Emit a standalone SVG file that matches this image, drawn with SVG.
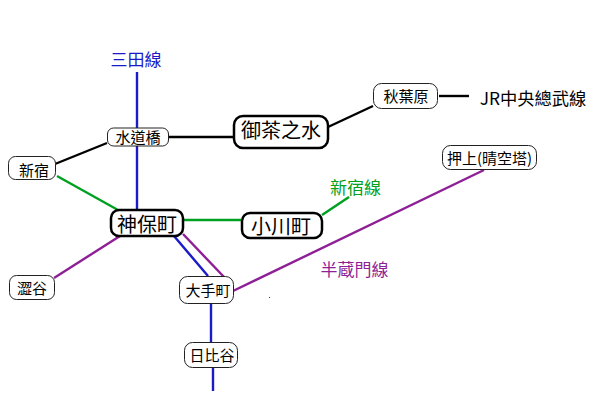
<svg xmlns="http://www.w3.org/2000/svg" width="600" height="415" viewBox="0 0 600 415">
<style>
text{font-family:"Noto Sans CJK TC","Noto Sans CJK SC","Liberation Sans",sans-serif;text-anchor:middle;dominant-baseline:central;fill:#000}
.n rect{fill:#fff;stroke:#222;stroke-width:1;}
.b rect{fill:#fff;stroke:#000;stroke-width:2.5}
.s{font-size:15px}.l{font-size:20px}
#connectors line{stroke-width:2.4;fill:none}
.k{stroke:#000}.g{stroke:#00a020}.u{stroke:#1a1ac8}.p{stroke:#8e1f96}
</style>
<rect width="600" height="415" fill="#fff"/>
<g id="connectors">
<line class="u" x1="137" y1="72" x2="137" y2="128"/>
<line class="u" x1="137" y1="146" x2="137" y2="210"/>
<line class="k" x1="168" y1="137" x2="233" y2="137"/>
<line class="k" x1="55" y1="164" x2="107" y2="143"/>
<line class="k" x1="328" y1="127" x2="373" y2="106"/>
<line class="k" x1="439" y1="96" x2="469" y2="96"/>
<line class="g" x1="57" y1="176" x2="118" y2="210"/>
<line class="g" x1="183" y1="220" x2="241" y2="220"/>
<line class="g" x1="322" y1="215" x2="349" y2="197"/>
<line class="p" x1="120" y1="236" x2="54" y2="278"/>
<line class="u" x1="174" y1="236" x2="208" y2="276"/>
<line class="p" x1="183" y1="234" x2="224" y2="277"/>
<line class="p" x1="233" y1="291" x2="484" y2="170"/>
<line class="u" x1="211" y1="303" x2="211" y2="342"/>
<line class="u" x1="213" y1="367" x2="213" y2="391"/>
</g>
<g id="mita-label"><text x="136" y="58" font-size="17" style="fill:#1a1ac8">三田線</text></g>
<g id="jr-label"><text x="533" y="97" font-size="17.300">JR中央總武線</text></g>
<g id="shinjuku-line-label"><text x="355.500" y="186" font-size="17" style="fill:#00a020">新宿線</text></g>
<g id="hanzomon-label"><text x="354.500" y="268" font-size="17" style="fill:#8e1f96">半蔵門線</text></g>
<g id="suidobashi" class="n"><rect x="107.500" y="128" width="61" height="18" rx="6"/><text class="s" x="138" y="136.500">水道橋</text></g>
<g id="shinjuku" class="n"><rect x="8.500" y="156.500" width="47" height="23" rx="7"/><text class="s" x="34" y="169.500">新宿</text></g>
<g id="ochanomizu" class="b"><rect x="234" y="116" width="94" height="32" rx="9"/><text class="l" x="281" y="129">御茶之水</text></g>
<g id="akihabara" class="n"><rect x="373.500" y="83.500" width="64" height="25" rx="8"/><text class="s" x="406" y="95">秋葉原</text></g>
<g id="oshiage" class="n"><rect x="442.500" y="145.500" width="94" height="24" rx="8"/><text class="s" x="489.500" y="157">押上(晴空塔)</text></g>
<g id="jimbocho" class="b"><rect x="111" y="210" width="72" height="26" rx="8"/><text class="l" x="147" y="223">神保町</text></g>
<g id="ogawamachi" class="b"><rect x="242" y="213" width="80" height="25" rx="8"/><text class="l" x="281" y="225.500">小川町</text></g>
<g id="shibuya" class="n"><rect x="9.500" y="275.500" width="45" height="24" rx="7"/><text class="s" x="32" y="287.500">澀谷</text></g>
<g id="otemachi" class="n"><rect x="179.500" y="276.500" width="54" height="27" rx="8"/><text class="s" x="208" y="289.500">大手町</text></g>
<g id="hibiya" class="n"><rect x="184.500" y="342.500" width="53" height="25" rx="8"/><text class="s" x="212" y="354.500">日比谷</text></g>
<rect x="269" y="297" width="1" height="1" fill="#333"/>
</svg>
